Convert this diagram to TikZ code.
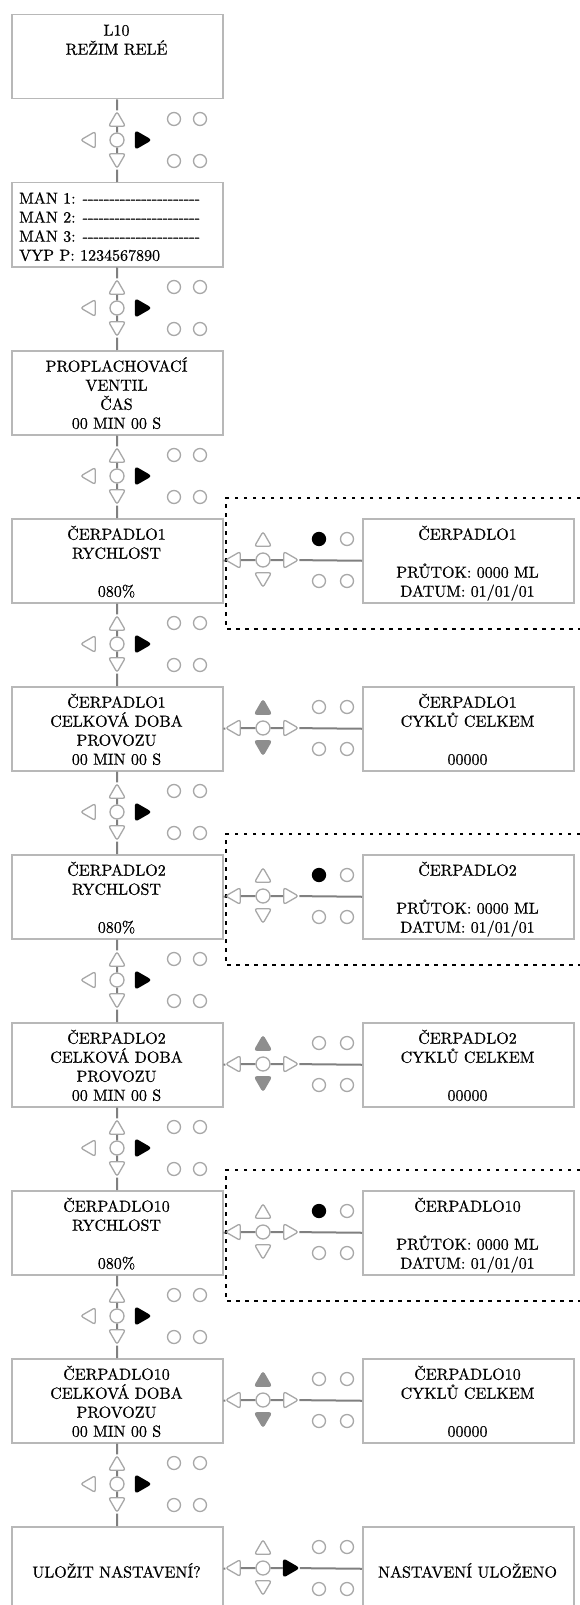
\documentclass[tikz,border=0pt]{standalone}
\usetikzlibrary{shapes.geometric,calc}
\lineskiplimit=-100pt
\font\lmten="[lmroman10-regular]:embolden=0.6" at 16pt
\definecolor{boxgray}{HTML}{B8B8B8}
\definecolor{stemgray}{HTML}{808080}
\definecolor{navgray}{HTML}{A8A8A8}
\definecolor{fillgray}{HTML}{8E8E8E}
\newcommand\st{\rule{0pt}{15pt}}
\newcommand\hyphs{-{}-{}-{}-{}-{}-{}-{}-{}-{}-{}-{}-{}-{}-{}-{}-{}-{}-{}-{}-{}-{}-{}}
\tikzset{
  panel/.style={draw=boxgray, line width=1.5, fill=white, minimum width=211, minimum height=84, inner sep=0, anchor=north west},
  txt/.style={align=center, inner sep=0, anchor=north, font=\fontsize{16}{19}\selectfont\lmten},
  ltxt/.style={align=left, inner sep=0, anchor=north west, font=\fontsize{16}{19}\selectfont\lmten},
  stxt/.style={inner sep=0, anchor=base, font=\fontsize{16}{19}\selectfont\lmten},
  stem/.style={draw=stemgray, line width=2},
  tri/.style={regular polygon, regular polygon sides=3, minimum size=19.5, inner sep=0, draw=navgray, line width=1.3, fill=white, rounded corners=2.5},
  triup/.style={tri, yshift=-2.4pt},
  tridown/.style={tri, regular polygon rotate=180, yshift=2.4pt},
  trileft/.style={tri, regular polygon rotate=90, xshift=2.4pt},
  triright/.style={tri, regular polygon rotate=-90, xshift=-2.4pt},
  blk/.style={fill=black, draw=black, minimum size=20.5},
  gry/.style={fill=fillgray, draw=fillgray},
  navc/.style={circle, draw=navgray, line width=1.3, fill=white, minimum size=14, inner sep=0},
  led/.style={circle, draw=navgray, line width=1.3, fill=white, minimum size=13, inner sep=0},
  ledon/.style={led, fill=black, draw=black},
  dotline/.style={line width=2.8, dash pattern=on 3.5pt off 5.5pt},
}
% vertical navigation cluster: id, centre y
\newcommand\VNav[2]{%
  \node[navc] (#1c) at (117,#2) {};
  \node[triup] (#1u) at (117,#2-21) {};
  \node[tridown] (#1d) at (117,#2+21) {};
  \node[trileft] (#1l) at (88,#2) {};
  \node[triright,blk] (#1r) at (143,#2) {};
  \node[led] (#1a) at (174,#2-21) {};
  \node[led] (#1b) at (200,#2-21) {};
  \node[led] (#1e) at (174,#2+21) {};
  \node[led] (#1f) at (200,#2+21) {};
}
% horizontal cluster: id, centre y, up/down style, right style, first led style
\newcommand\HNav[5]{%
  \node[navc] (#1c) at (263,#2) {};
  \node[triup,#3] (#1u) at (263,#2-21) {};
  \node[tridown,#3] (#1d) at (263,#2+20) {};
  \node[trileft] (#1l) at (233,#2) {};
  \node[triright,#4] (#1r) at (291,#2) {};
  \node[#5] (#1a) at (319,#2-21) {};
  \node[led] (#1b) at (347,#2-21) {};
  \node[led] (#1e) at (319,#2+21) {};
  \node[led] (#1f) at (347,#2+21) {};
}
\begin{document}
\begin{tikzpicture}[x=1pt,y=-1pt]
\useasboundingbox[fill=white] (0,0) rectangle (580,1605);

% dotted frames
\draw[dotline] (580,498) -- (226,498) -- (226,629) -- (580,629);
\draw[dotline] (580,834) -- (226,834) -- (226,965) -- (580,965);
\draw[dotline] (580,1170) -- (226,1170) -- (226,1301) -- (580,1301);

% left panels
\node[panel] (b1) at (11,14) {};
\node[panel] (b2) at (11,182) {};
\node[panel] (b3) at (11,350) {};
\node[panel] (b4) at (11,518) {};
\node[panel] (b5) at (11,686) {};
\node[panel] (b6) at (11,854) {};
\node[panel] (b7) at (11,1022) {};
\node[panel] (b8) at (11,1190) {};
\node[panel] (b9) at (11,1358) {};
\node[panel] (b10) at (11,1526) {};
% right panels
\node[panel] (r4) at (362,518) {};
\node[panel] (r5) at (362,686) {};
\node[panel] (r6) at (362,854) {};
\node[panel] (r7) at (362,1022) {};
\node[panel] (r8) at (362,1190) {};
\node[panel] (r9) at (362,1358) {};
\node[panel] (r10) at (362,1526) {};

% texts
\node[txt] (t1) at (116.5,20.5) {\st L10\\REŽIM RELÉ};
\node[ltxt] (t2) at (19,188.5) {\st MAN 1: \hyphs\\MAN 2: \hyphs\\MAN 3: \hyphs\\VYP P: 1234567890};
\node[txt] (t3) at (116.5,356.5) {\st PROPLACHOVACÍ\\VENTIL\\ČAS\\00 MIN 00 S};
\node[txt] (t4) at (116.5,524.5) {\st ČERPADLO1\\RYCHLOST\\\mbox{}\\080\%};
\node[txt] (u4) at (467.5,524.5) {\st ČERPADLO1\\\mbox{}\\PRŮTOK: 0000 ML\\DATUM: 01/01/01};
\node[txt] (t5) at (116.5,692.5) {\st ČERPADLO1\\CELKOVÁ DOBA\\PROVOZU\\00 MIN 00 S};
\node[txt] (u5) at (467.5,692.5) {\st ČERPADLO1\\CYKLŮ CELKEM\\\mbox{}\\00000};
\node[txt] (t6) at (116.5,860.5) {\st ČERPADLO2\\RYCHLOST\\\mbox{}\\080\%};
\node[txt] (u6) at (467.5,860.5) {\st ČERPADLO2\\\mbox{}\\PRŮTOK: 0000 ML\\DATUM: 01/01/01};
\node[txt] (t7) at (116.5,1028.5) {\st ČERPADLO2\\CELKOVÁ DOBA\\PROVOZU\\00 MIN 00 S};
\node[txt] (u7) at (467.5,1028.5) {\st ČERPADLO2\\CYKLŮ CELKEM\\\mbox{}\\00000};
\node[txt] (t8) at (116.5,1196.5) {\st ČERPADLO10\\RYCHLOST\\\mbox{}\\080\%};
\node[txt] (u8) at (467.5,1196.5) {\st ČERPADLO10\\\mbox{}\\PRŮTOK: 0000 ML\\DATUM: 01/01/01};
\node[txt] (t9) at (116.5,1364.5) {\st ČERPADLO10\\CELKOVÁ DOBA\\PROVOZU\\00 MIN 00 S};
\node[txt] (u9) at (467.5,1364.5) {\st ČERPADLO10\\CYKLŮ CELKEM\\\mbox{}\\00000};
\node[stxt] (t10) at (116.5,1577.5) {ULOŽIT NASTAVENÍ?};
\node[stxt] (u10) at (467.5,1577.5) {NASTAVENÍ ULOŽENO};

% vertical clusters
\VNav{v1}{140}
\VNav{v2}{308}
\VNav{v3}{476}
\VNav{v4}{644}
\VNav{v5}{812}
\VNav{v6}{980}
\VNav{v7}{1148}
\VNav{v8}{1316}
\VNav{v9}{1484}
% horizontal clusters
\HNav{h4}{560}{}{}{ledon}
\HNav{h5}{728}{gry}{}{led}
\HNav{h6}{896}{}{}{ledon}
\HNav{h7}{1064}{gry}{}{led}
\HNav{h8}{1232}{}{}{ledon}
\HNav{h9}{1400}{gry}{}{led}
\HNav{h10}{1568}{}{blk}{led}

% vertical connectors
\draw[stem] (b1) -- (v1u) -- (v1c) -- (v1d) -- (b2);
\draw[stem] (b2) -- (v2u) -- (v2c) -- (v2d) -- (b3);
\draw[stem] (b3) -- (v3u) -- (v3c) -- (v3d) -- (b4);
\draw[stem] (b4) -- (v4u) -- (v4c) -- (v4d) -- (b5);
\draw[stem] (b5) -- (v5u) -- (v5c) -- (v5d) -- (b6);
\draw[stem] (b6) -- (v6u) -- (v6c) -- (v6d) -- (b7);
\draw[stem] (b7) -- (v7u) -- (v7c) -- (v7d) -- (b8);
\draw[stem] (b8) -- (v8u) -- (v8c) -- (v8d) -- (b9);
\draw[stem] (b9) -- (v9u) -- (v9c) -- (v9d) -- (b10);
% horizontal connectors
\foreach \i in {4,...,10}{
  \draw[stem] (b\i.east) -- (h\i l) -- (h\i c) -- (h\i r) -- (r\i.west);
}
\end{tikzpicture}
\end{document}
